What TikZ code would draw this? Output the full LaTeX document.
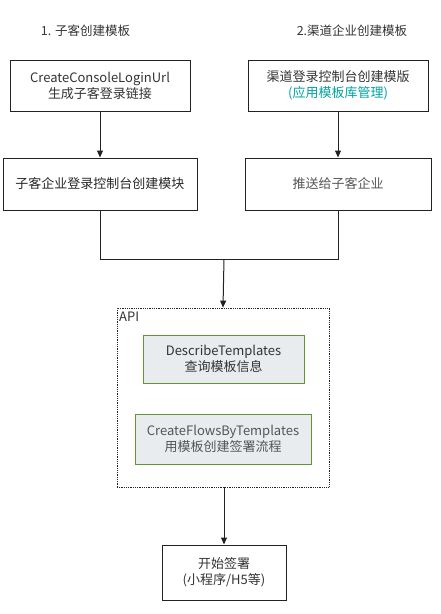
\documentclass[tikz,border=0pt]{standalone}
\usepackage{fontspec}
\setmainfont{Noto Sans CJK SC}
\usetikzlibrary{arrows.meta}
\definecolor{txt}{RGB}{51,51,51}
\definecolor{txtlight}{RGB}{85,85,85}
\definecolor{teal2}{RGB}{0,163,163}
\definecolor{apifill}{RGB}{232,236,239}
\definecolor{apigreen}{RGB}{98,150,50}
\definecolor{line}{RGB}{34,34,34}
\begin{document}
\begin{tikzpicture}[x=1pt,y=-1pt,
  every node/.style={font=\fontsize{13}{16}\selectfont, text=txt, align=center, inner sep=0pt},
  box/.style={draw=line, line width=1pt, minimum height=51pt},
  apibox/.style={draw=apigreen, fill=apifill, line width=1pt},
  title/.style={font=\fontsize{12.5}{15}\selectfont},
  conn/.style={draw=line, line width=1pt},
  arr/.style={conn, -{Triangle[length=7pt,width=6pt]}}]
\useasboundingbox (0,0) rectangle (440,614);
\node[title] (t1) at (85.5,31) {1. 子客创建模板};
\node[title] (t2) at (352,31) {2.渠道企业创建模板};
\node[box, minimum width=180pt] (b1) at (100,85.5) {CreateConsoleLoginUrl\\生成子客登录链接};
\node[box, minimum width=180pt] (b2) at (338,85.5) {渠道登录控制台创建模版\\\textcolor{teal2}{(应用模板库管理)}};
\node[box, minimum width=194pt, minimum height=52pt, text=black!85] (b3) at (100,184) {子客企业登录控制台创建模块};
\node[box, minimum width=186pt, minimum height=52pt, text=txtlight] (b4) at (338,184) {推送给子客企业};
\node[draw=line, densely dotted, line width=0.8pt, minimum width=212pt, minimum height=179pt] (api) at (223,397.5) {};
\node[anchor=north west] (apil) at (119,312) {API};
\node[apibox, minimum width=161pt, minimum height=48pt] (d) at (223.5,359) {DescribeTemplates\\查询模板信息};
\node[apibox, minimum width=176pt, minimum height=50pt, text=txtlight] (c) at (223,439) {CreateFlowsByTemplates\\用模板创建签署流程};
\node[box, minimum width=124pt, minimum height=55pt] (f) at (224,572.5) {开始签署\\(小程序/H5等)};
\coordinate (j) at (224,259);
\draw[arr] (b1) -- (b3);
\draw[arr] (b2) -- (b4);
\draw[conn] (b3.south) |- (j);
\draw[conn] (b4.south) |- (j);
\draw[arr] (j) -- (api.north);
\draw[arr] (api.south -| f.north) -- (f.north);
\end{tikzpicture}
\end{document}
